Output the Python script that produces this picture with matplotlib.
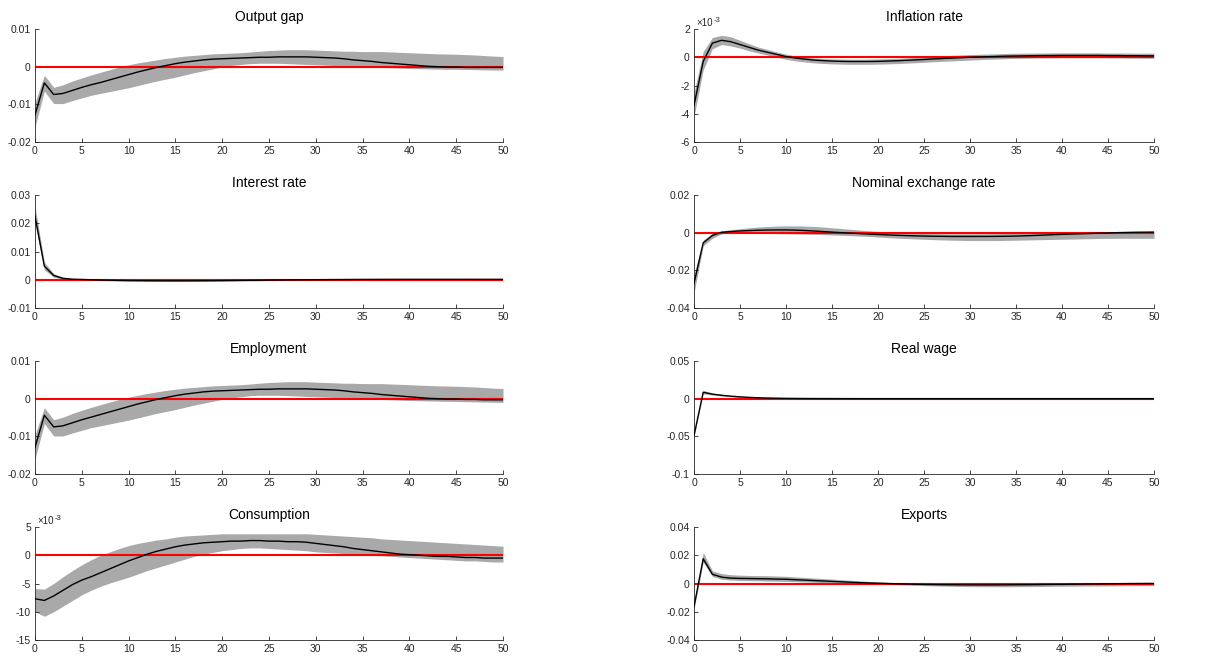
import numpy as np
import matplotlib
matplotlib.use("Agg")
import matplotlib.pyplot as plt
from matplotlib.ticker import FuncFormatter
from matplotlib.transforms import offset_copy

plt.rcParams['font.family'] = ['Liberation Sans', 'DejaVu Sans']
plt.rcParams['axes.unicode_minus'] = False

# all values below are in units of 1e-3
SCALE = 1e-3
periods = list(range(51))

titles = ["Output gap", "Inflation rate", "Interest rate", "Nominal exchange rate",
          "Employment", "Real wage", "Consumption", "Exports"]

og_mean = [-12.8, -4.3, -7.4, -7.1, -6.3, -5.5, -4.8, -4.2, -3.5, -2.8, -2.1, -1.4, -0.8, -0.2, 0.3, 0.8, 1.2, 1.5, 1.8, 2.0,
           2.1, 2.2, 2.3, 2.4, 2.5, 2.5, 2.6, 2.6, 2.6, 2.6, 2.5, 2.4, 2.3, 2.1, 1.8, 1.6, 1.4, 1.1, 0.9, 0.7,
           0.5, 0.3, 0.1, 0.0, -0.1, -0.1, -0.2, -0.2, -0.2, -0.2, -0.2]
og_lower = [-16.0, -6.5, -9.8, -9.8, -9.0, -8.3, -7.6, -7.1, -6.6, -6.1, -5.6, -5.0, -4.4, -3.8, -3.3, -2.8, -2.2, -1.6, -1.1, -0.6,
            -0.1, 0.3, 0.6, 0.8, 0.9, 0.9, 0.9, 0.8, 0.7, 0.6, 0.5, 0.4, 0.3, 0.2, 0.1, 0.0, -0.1, -0.2, -0.3, -0.4,
            -0.5, -0.55, -0.6, -0.65, -0.7, -0.7, -0.75, -0.8, -0.85, -0.9, -0.9]
og_upper = [-9.5, -2.3, -5.5, -4.8, -3.8, -3.0, -2.2, -1.5, -0.8, -0.1, 0.5, 1.0, 1.4, 1.8, 2.2, 2.5, 2.8, 3.0, 3.2, 3.4,
            3.5, 3.6, 3.7, 3.9, 4.1, 4.3, 4.4, 4.5, 4.5, 4.5, 4.4, 4.3, 4.2, 4.1, 4.1, 4.0, 4.0, 4.0, 3.9, 3.8,
            3.7, 3.6, 3.5, 3.4, 3.35, 3.3, 3.2, 3.1, 2.95, 2.8, 2.7]

inf_mean = [-3.4, -0.3, 1.0, 1.2, 1.1, 0.9, 0.7, 0.5, 0.35, 0.2, 0.05, -0.05, -0.13, -0.2, -0.24, -0.27, -0.29, -0.3, -0.3, -0.3,
            -0.29, -0.27, -0.25, -0.22, -0.19, -0.16, -0.12, -0.09, -0.06, -0.03, 0.0, 0.02, 0.04, 0.06, 0.08, 0.09, 0.1, 0.11, 0.12, 0.12,
            0.13, 0.13, 0.13, 0.13, 0.13, 0.12, 0.12, 0.11, 0.11, 0.1, 0.1]
inf_lower = [-4.2, -0.9, 0.6, 0.9, 0.8, 0.65, 0.45, 0.3, 0.15, 0.0, -0.15, -0.25, -0.33, -0.4, -0.44, -0.47, -0.49, -0.5, -0.5, -0.5,
             -0.49, -0.47, -0.45, -0.42, -0.39, -0.36, -0.32, -0.29, -0.26, -0.23, -0.2, -0.17, -0.14, -0.12, -0.1, -0.08, -0.07, -0.06, -0.05, -0.05,
             -0.04, -0.04, -0.04, -0.04, -0.04, -0.05, -0.05, -0.06, -0.06, -0.07, -0.07]
inf_upper = [-2.5, 0.4, 1.4, 1.55, 1.45, 1.2, 0.95, 0.72, 0.55, 0.38, 0.22, 0.1, 0.02, -0.05, -0.09, -0.12, -0.13, -0.14, -0.14, -0.13,
             -0.12, -0.1, -0.08, -0.05, -0.02, 0.02, 0.06, 0.1, 0.13, 0.16, 0.19, 0.21, 0.23, 0.25, 0.27, 0.28, 0.29, 0.3, 0.3, 0.31,
             0.31, 0.31, 0.31, 0.31, 0.31, 0.3, 0.3, 0.3, 0.29, 0.29, 0.29]

int_mean = [22.5, 4.8, 1.5, 0.5, 0.2, 0.1, 0.0, -0.1, -0.18, -0.24, -0.29, -0.32, -0.35, -0.37, -0.38, -0.38, -0.38, -0.37, -0.35, -0.33,
            -0.3, -0.27, -0.23, -0.2, -0.16, -0.12, -0.09, -0.06, -0.03, 0.0, 0.02, 0.04, 0.06, 0.08, 0.1, 0.11, 0.12, 0.13, 0.14, 0.14,
            0.15, 0.15, 0.15, 0.15, 0.15, 0.15, 0.15, 0.14, 0.14, 0.14, 0.14]
int_lower = [20.0, 3.5, 0.9, 0.2, 0.0, -0.1, -0.2, -0.3, -0.38, -0.44, -0.49, -0.52, -0.55, -0.57, -0.58, -0.58, -0.58, -0.57, -0.55, -0.53,
             -0.5, -0.47, -0.43, -0.4, -0.36, -0.32, -0.29, -0.26, -0.23, -0.2, -0.18, -0.16, -0.14, -0.12, -0.1, -0.09, -0.08, -0.07, -0.06, -0.06,
             -0.05, -0.05, -0.05, -0.05, -0.05, -0.05, -0.05, -0.06, -0.06, -0.06, -0.06]
int_upper = [26.0, 6.2, 2.2, 0.8, 0.4, 0.3, 0.2, 0.1, 0.02, -0.04, -0.09, -0.12, -0.15, -0.17, -0.18, -0.18, -0.18, -0.17, -0.15, -0.13,
             -0.1, -0.07, -0.03, 0.0, 0.04, 0.08, 0.11, 0.14, 0.17, 0.2, 0.22, 0.24, 0.26, 0.28, 0.3, 0.31, 0.32, 0.33, 0.34, 0.34,
             0.35, 0.35, 0.35, 0.35, 0.35, 0.35, 0.35, 0.34, 0.34, 0.34, 0.34]

ner_mean = [-27.0, -5.4, -1.5, 0.2, 0.6, 0.9, 1.1, 1.3, 1.4, 1.45, 1.45, 1.35, 1.15, 0.9, 0.6, 0.3, 0.0, -0.25, -0.5, -0.75,
            -1.0, -1.2, -1.4, -1.55, -1.7, -1.8, -1.9, -1.95, -2.0, -2.0, -2.0, -2.0, -2.0, -1.95, -1.9, -1.8, -1.65, -1.5, -1.3, -1.1,
            -0.9, -0.75, -0.6, -0.45, -0.3, -0.15, 0.0, 0.1, 0.2, 0.25, 0.3]
ner_lower = [-32.0, -7.0, -3.0, -0.6, -0.3, -0.2, -0.2, -0.3, -0.4, -0.5, -0.6, -0.7, -0.8, -0.9, -1.0, -1.2, -1.4, -1.6, -1.8, -2.0,
             -2.3, -2.6, -2.9, -3.1, -3.3, -3.5, -3.7, -3.85, -4.0, -4.1, -4.2, -4.2, -4.2, -4.2, -4.1, -4.0, -3.9, -3.8, -3.7, -3.6,
             -3.5, -3.4, -3.3, -3.2, -3.1, -3.05, -3.0, -3.0, -3.0, -3.0, -3.0]
ner_upper = [-22.0, -4.0, -0.3, 1.0, 1.6, 2.1, 2.6, 3.0, 3.3, 3.5, 3.6, 3.6, 3.5, 3.3, 3.0, 2.6, 2.2, 1.8, 1.4, 1.0,
             0.6, 0.3, 0.0, -0.2, -0.35, -0.45, -0.5, -0.55, -0.6, -0.6, -0.6, -0.6, -0.55, -0.5, -0.4, -0.3, -0.2, -0.1, 0.0, 0.1,
             0.2, 0.3, 0.4, 0.45, 0.5, 0.55, 0.6, 0.65, 0.7, 0.7, 0.7]

emp_mean = [-12.9, -4.4, -7.5, -7.2, -6.4, -5.6, -4.9, -4.2, -3.5, -2.8, -2.1, -1.4, -0.8, -0.2, 0.3, 0.8, 1.2, 1.5, 1.8, 2.0,
            2.1, 2.2, 2.3, 2.4, 2.5, 2.5, 2.6, 2.6, 2.6, 2.6, 2.5, 2.4, 2.3, 2.1, 1.8, 1.6, 1.4, 1.1, 0.9, 0.7,
            0.5, 0.3, 0.1, 0.0, -0.1, -0.1, -0.2, -0.2, -0.3, -0.3, -0.3]
emp_lower = [-16.0, -6.6, -9.9, -9.9, -9.1, -8.4, -7.7, -7.2, -6.7, -6.2, -5.7, -5.1, -4.5, -3.9, -3.4, -2.9, -2.3, -1.7, -1.2, -0.7,
             -0.2, 0.2, 0.5, 0.8, 0.9, 0.9, 0.9, 0.8, 0.7, 0.6, 0.5, 0.4, 0.3, 0.2, 0.1, 0.0, -0.1, -0.2, -0.3, -0.4,
             -0.5, -0.55, -0.6, -0.65, -0.7, -0.75, -0.8, -0.85, -0.9, -0.95, -1.0]
emp_upper = [-9.6, -2.4, -5.6, -4.9, -3.9, -3.1, -2.3, -1.6, -0.9, -0.2, 0.4, 0.9, 1.4, 1.8, 2.2, 2.5, 2.8, 3.0, 3.2, 3.4,
             3.5, 3.6, 3.7, 3.9, 4.1, 4.3, 4.4, 4.5, 4.5, 4.5, 4.4, 4.3, 4.2, 4.1, 4.1, 4.0, 4.0, 4.0, 3.9, 3.8,
             3.7, 3.6, 3.5, 3.4, 3.35, 3.3, 3.2, 3.1, 2.95, 2.8, 2.7]

rw_mean = [-49.0, 8.5, 6.0, 4.5, 3.3, 2.4, 1.7, 1.2, 0.85, 0.6, 0.4, 0.28, 0.2, 0.14, 0.1, 0.07, 0.05, 0.03, 0.02, 0.01,
           0.0, 0.0, 0.0, 0.0, 0.0, 0.0, 0.0, 0.0, 0.0, 0.0, 0.0, 0.0, 0.0, 0.0, 0.0, 0.0, 0.0, 0.0, 0.0, 0.0,
           0.0, 0.0, 0.0, 0.0, 0.0, 0.0, 0.0, 0.0, 0.0, 0.0, 0.0]
rw_lower = [-50.5, 6.5, 4.8, 3.5, 2.5, 1.7, 1.1, 0.7, 0.4, 0.2, 0.1, 0.0, -0.05, -0.08, -0.1, -0.1, -0.1, -0.1, -0.1, -0.1,
            -0.1, -0.1, -0.1, -0.1, -0.1, -0.1, -0.1, -0.1, -0.1, -0.1, -0.1, -0.1, -0.1, -0.1, -0.1, -0.1, -0.1, -0.1, -0.1, -0.1,
            -0.1, -0.1, -0.1, -0.1, -0.1, -0.1, -0.1, -0.1, -0.1, -0.1, -0.1]
rw_upper = [-47.5, 11.0, 7.5, 5.6, 4.2, 3.1, 2.3, 1.7, 1.3, 1.0, 0.75, 0.55, 0.45, 0.35, 0.3, 0.25, 0.2, 0.15, 0.12, 0.1,
            0.1, 0.1, 0.1, 0.1, 0.1, 0.1, 0.1, 0.1, 0.1, 0.1, 0.1, 0.1, 0.1, 0.1, 0.1, 0.1, 0.1, 0.1, 0.1, 0.1,
            0.1, 0.1, 0.1, 0.1, 0.1, 0.1, 0.1, 0.1, 0.1, 0.1, 0.1]

con_mean = [-7.7, -8.0, -7.2, -6.2, -5.2, -4.4, -3.8, -3.1, -2.4, -1.7, -1.0, -0.4, 0.2, 0.7, 1.1, 1.5, 1.8, 2.0, 2.2, 2.3,
            2.4, 2.5, 2.5, 2.6, 2.6, 2.5, 2.5, 2.4, 2.4, 2.3, 2.1, 1.9, 1.7, 1.5, 1.2, 1.0, 0.8, 0.6, 0.4, 0.2,
            0.1, 0.0, -0.1, -0.2, -0.2, -0.3, -0.4, -0.4, -0.5, -0.5, -0.5]
con_lower = [-10.0, -10.8, -10.0, -9.0, -8.0, -7.0, -6.2, -5.5, -4.9, -4.4, -3.9, -3.3, -2.7, -2.2, -1.7, -1.2, -0.7, -0.2, 0.2, 0.5,
             0.8, 1.0, 1.2, 1.3, 1.3, 1.2, 1.1, 1.0, 0.9, 0.8, 0.6, 0.5, 0.4, 0.3, 0.2, 0.1, 0.0, -0.1, -0.2, -0.3,
             -0.4, -0.5, -0.6, -0.7, -0.8, -0.9, -1.0, -1.0, -1.1, -1.2, -1.2]
con_upper = [-5.9, -6.0, -5.0, -3.8, -2.7, -1.7, -0.8, 0.0, 0.6, 1.2, 1.7, 2.1, 2.4, 2.7, 2.9, 3.2, 3.4, 3.5, 3.6, 3.7,
             3.8, 3.8, 3.8, 3.8, 3.8, 3.8, 3.8, 3.8, 3.8, 3.8, 3.7, 3.6, 3.5, 3.4, 3.3, 3.2, 3.1, 2.9, 2.8, 2.7,
             2.6, 2.5, 2.4, 2.3, 2.2, 2.1, 2.0, 1.9, 1.8, 1.7, 1.6]

exp_mean = [-16.5, 17.5, 6.5, 4.5, 3.8, 3.6, 3.5, 3.4, 3.3, 3.1, 3.0, 2.7, 2.4, 2.1, 1.8, 1.5, 1.2, 0.9, 0.6, 0.4,
            0.2, 0.0, -0.2, -0.35, -0.5, -0.65, -0.75, -0.85, -0.9, -0.95, -1.0, -1.0, -1.0, -1.0, -0.95, -0.9, -0.85, -0.8, -0.7, -0.65,
            -0.6, -0.5, -0.45, -0.35, -0.3, -0.2, -0.15, -0.1, -0.05, 0.0, 0.0]
exp_lower = [-18.0, 15.0, 5.0, 3.0, 2.4, 2.1, 2.0, 1.9, 1.7, 1.6, 1.5, 1.3, 1.1, 0.9, 0.7, 0.5, 0.3, 0.1, -0.1, -0.3,
             -0.5, -0.7, -0.9, -1.1, -1.3, -1.5, -1.7, -1.85, -2.0, -2.1, -2.2, -2.25, -2.3, -2.3, -2.3, -2.25, -2.2, -2.15, -2.1, -2.0,
             -1.95, -1.9, -1.85, -1.8, -1.75, -1.7, -1.65, -1.6, -1.55, -1.5, -1.5]
exp_upper = [-15.0, 22.0, 9.0, 7.0, 6.2, 5.9, 5.7, 5.6, 5.5, 5.3, 5.1, 4.7, 4.3, 3.9, 3.5, 3.1, 2.7, 2.3, 1.9, 1.5,
             1.1, 0.8, 0.5, 0.3, 0.15, 0.05, 0.0, -0.05, -0.05, -0.05, -0.05, -0.05, 0.0, 0.0, 0.05, 0.1, 0.15, 0.2, 0.3, 0.35,
             0.4, 0.5, 0.55, 0.6, 0.65, 0.7, 0.75, 0.8, 0.8, 0.8, 0.8]

# y tick positions (true units) for each panel
yticks_list = [
    [-0.02, -0.01, 0, 0.01],
    [-6e-3, -4e-3, -2e-3, 0, 2e-3],
    [-0.01, 0, 0.01, 0.02, 0.03],
    [-0.04, -0.02, 0, 0.02],
    [-0.02, -0.01, 0, 0.01],
    [-0.1, -0.05, 0, 0.05],
    [-15e-3, -10e-3, -5e-3, 0, 5e-3],
    [-0.04, -0.02, 0, 0.02, 0.04],
]
exp3 = [False, True, False, False, False, False, True, False]

series = [
    (og_mean, og_lower, og_upper), (inf_mean, inf_lower, inf_upper),
    (int_mean, int_lower, int_upper), (ner_mean, ner_lower, ner_upper),
    (emp_mean, emp_lower, emp_upper), (rw_mean, rw_lower, rw_upper),
    (con_mean, con_lower, con_upper), (exp_mean, exp_lower, exp_upper),
]

W, H = 1212, 657
fig = plt.figure(figsize=(W / 100, H / 100), dpi=100)
fig.patch.set_facecolor('white')

col_left = [35, 694]
col_width = [468, 460]
row_top = [29, 195, 361, 527]
ax_h = 113

axis_col = '#262626'

def fmt_plain(v, pos):
    s = ('%.4f' % v).rstrip('0').rstrip('.')
    if s in ('-0', ''):
        s = '0'
    return s

def fmt_e3(v, pos):
    s = ('%.4f' % (v / 1e-3)).rstrip('0').rstrip('.')
    if s in ('-0', ''):
        s = '0'
    return s

for i, (title, (m, lo, up)) in enumerate(zip(titles, series)):
    r, c = divmod(i, 2)
    left = col_left[c] / W
    bottom = 1 - (row_top[r] + ax_h) / H
    ax = fig.add_axes([left, bottom, col_width[c] / W, ax_h / H])
    x = np.array(periods)
    m = np.array(m) * SCALE
    lo = np.array(lo) * SCALE
    up = np.array(up) * SCALE
    ax.fill_between(x, lo, up, color='#a9a9a9', linewidth=0, zorder=1)
    ax.axhline(0, color='#ff0000', lw=1.5, zorder=2)
    ax.plot(x, m, color='black', lw=1.0, zorder=3)
    yt = yticks_list[i]
    ax.set_xlim(0, 50)
    ax.set_ylim(yt[0], yt[-1])
    ax.set_xticks(range(0, 51, 5))
    ax.set_yticks(yt)
    ax.yaxis.set_major_formatter(FuncFormatter(fmt_e3 if exp3[i] else fmt_plain))
    for s in ['top', 'right']:
        ax.spines[s].set_visible(False)
    for s in ['left', 'bottom']:
        ax.spines[s].set_color(axis_col)
        ax.spines[s].set_linewidth(0.6)
    ax.tick_params(direction='in', length=3, width=0.6, colors=axis_col,
                   labelsize=7.5, labelcolor=axis_col, pad=3)
    ax.set_title(title, fontsize=10, color='black', pad=6)
    if exp3[i]:
        tr1 = offset_copy(ax.transAxes, fig=fig, x=2, y=0, units='dots')
        ax.text(0.0, 1.012, '\u00d710', transform=tr1,
                fontsize=7, color=axis_col, ha='left', va='bottom')
        tr2 = offset_copy(ax.transAxes, fig=fig, x=20, y=4, units='dots')
        ax.text(0.0, 1.012, '-3', transform=tr2,
                fontsize=5.5, color=axis_col, ha='left', va='bottom')

fig.savefig('out.png', dpi=100, facecolor='white')
